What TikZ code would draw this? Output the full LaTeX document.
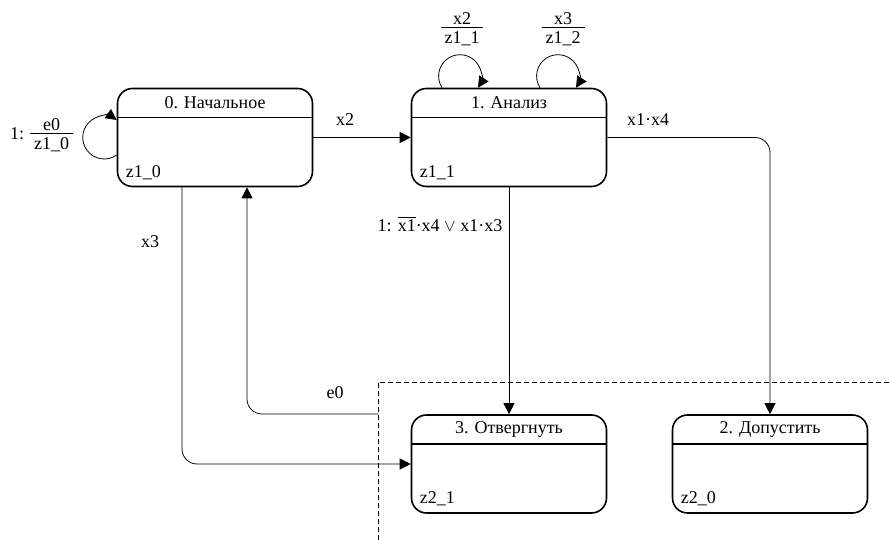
\documentclass[tikz,border=0pt]{standalone}
\usepackage{amsmath}
\usepackage{fontspec}
\setmainfont{Liberation Serif}
\usetikzlibrary{arrows.meta}

% stacked guard/action label: numerator over a rule over denominator
\newcommand\fracbox[2]{{\renewcommand{\arraystretch}{0}\setlength{\arrayrulewidth}{0.8pt}%
  \begin{tabular}{@{\hspace{4pt}}c@{\hspace{4pt}}}#1\\[3pt]\hline\rule{0pt}{15pt}#2\end{tabular}}}

\begin{document}
\begin{tikzpicture}[x=1pt,y=1pt,
  every node/.style={font=\fontsize{18}{21}\selectfont, inner sep=0pt},
  state/.style={draw, line width=1.6pt, rounded corners=15pt,
                minimum width=195pt, minimum height=98pt},
  conn/.style={line width=0.8pt, -{Triangle[length=11pt,width=11pt]}},
]
\fill[white] (0,0) rectangle (889,540);
\useasboundingbox (0,0) rectangle (889,540);

% boundary of the final-states region
\draw[line width=0.8pt, dash pattern=on 5pt off 3pt] (378,0) -- (378,158) -- (889,158);

% states
\node[state] (s0) at (215,402.5) {};
\node[state] (s1) at (509,402.5) {};
\node[state] (s3) at (509,76) {};
\node[state] (s2) at (770,76) {};

\foreach \s/\t/\z in {s0/{0. Начальное}/z1\_0, s1/{1. Анализ}/z1\_1,
                      s3/{3. Отвергнуть}/z2\_1, s2/{2. Допустить}/z2\_0} {
  \draw[line width=1.6pt] ([yshift=-30pt]\s.north west) -- ([yshift=-30pt]\s.north east);
  \node (\s-title) at ([yshift=-15pt]\s.north) {\t};
  \node[anchor=base west] (\s-out) at ([xshift=9pt,yshift=10pt]\s.south west) {\z};
}

% transitions
\draw[conn] (s0.east) -- (s1.west);
\draw[conn, rounded corners=15pt] (s1.east) -| (s2.north);
\draw[conn] (s1.south) -- (s3.north);
\draw[conn, rounded corners=15pt] ([xshift=-33pt]s0.south) |- (s3.west);
\coordinate (e0src) at (378,126);
\draw[conn, rounded corners=15pt] (e0src) -| ([xshift=32pt]s0.south);

% self-loops
\draw[conn] ([yshift=-17.5pt]s0.west) arc[start angle=-54.5, end angle=-305.5, radius=21.5];
\draw[conn] ([xshift=-67pt]s1.north) arc[start angle=212.8, end angle=-32.8, radius=21.4];
\draw[conn] ([xshift=31pt]s1.north) arc[start angle=212.8, end angle=-32.8, radius=21.4];

% transition labels
\node[anchor=west] (l0) at (10,405) {1: \fracbox{e0}{z1\_0}};
\node (l1) at (462,511) {\fracbox{x2}{z1\_1}};
\node (l2) at (563,511) {\fracbox{x3}{z1\_2}};
\node (lx2) at (345,420) {x2};
\node (lx14) at (648,420) {x1·x4};
\node (lx3) at (150,298) {x3};
\node (le0) at (335,147) {e0};
\node (lmain) at (440,316) {1: $\overline{\text{x1}}$·x4 $\vee$ x1·x3};
\end{tikzpicture}
\end{document}
